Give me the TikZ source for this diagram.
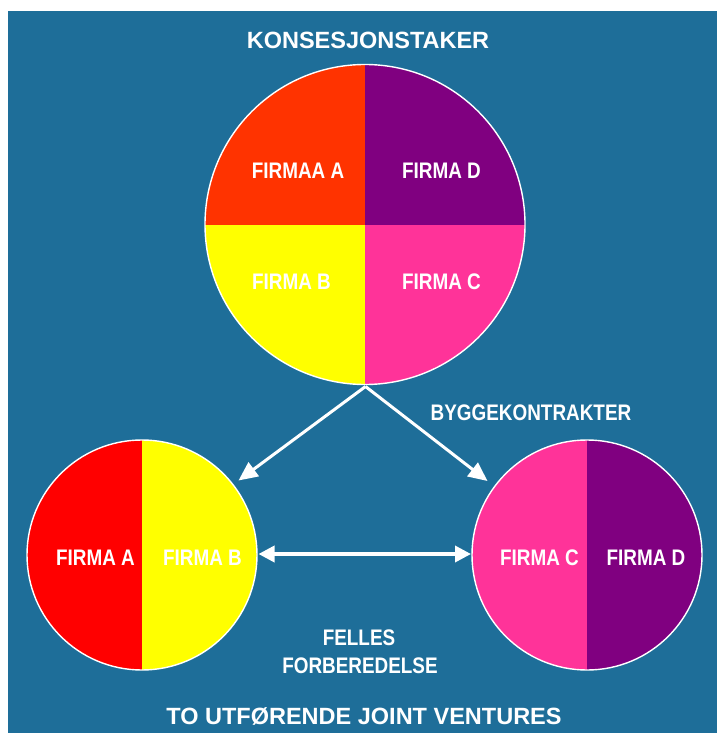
\documentclass[tikz,border=0pt]{standalone}
\usepackage{fontspec}
\setmainfont{Liberation Sans}
\newfontfamily\narrowf[FakeStretch=0.84]{Liberation Sans}
\usetikzlibrary{arrows.meta}
\definecolor{bgblue}{HTML}{1E6E99}
\definecolor{qorange}{HTML}{FF3300}
\definecolor{qpurple}{HTML}{800080}
\definecolor{qyellow}{HTML}{FFFF00}
\definecolor{qpink}{HTML}{FF3399}
\definecolor{qred}{HTML}{FF0000}
\tikzset{
  title/.style={text=white, font=\fontsize{23.5}{26}\selectfont\bfseries, anchor=base, inner sep=0pt},
  lab/.style={text=white, font=\narrowf\fontsize{22.5}{25}\selectfont\bfseries, anchor=base, inner sep=0pt},
  ring/.style={draw=white, line width=1.4pt},
  conn/.style={draw=white, line width=3pt, -{Triangle[length=19pt, width=17pt]}},
  dconn/.style={draw=white, line width=3.5pt, {Triangle[length=16pt, width=16pt]}-{Triangle[length=16pt, width=16pt]}}
}
\begin{document}
\begin{tikzpicture}[x=1pt,y=-1pt]
\useasboundingbox (0,0) rectangle (717,733);
\fill[white] (0,0) rectangle (717,733);
\fill[bgblue] (8,11) rectangle (717,733);

% top circle
\coordinate (tc) at (365,224.5);
\begin{scope}
  \clip (tc) circle[radius=160pt];
  \fill[qorange] (tc) rectangle ++(-170,-170);
  \fill[qpurple] (tc) rectangle ++(170,-170);
  \fill[qyellow] (tc) rectangle ++(-170,170);
  \fill[qpink] (tc) rectangle ++(170,170);
\end{scope}
\node[circle, minimum size=320pt, inner sep=0pt, ring] (top) at (tc) {};

% left circle
\coordinate (lc) at (142,555);
\begin{scope}
  \clip (lc) circle[radius=115pt];
  \fill[qred] (lc) ++(-120,-120) rectangle ++(120,240);
  \fill[qyellow] (lc) ++(0,-120) rectangle ++(120,240);
\end{scope}
\node[circle, minimum size=230pt, inner sep=0pt, ring] (left) at (lc) {};

% right circle
\coordinate (rc) at (587,555);
\begin{scope}
  \clip (rc) circle[radius=115pt];
  \fill[qpink] (rc) ++(-120,-120) rectangle ++(120,240);
  \fill[qpurple] (rc) ++(0,-120) rectangle ++(120,240);
\end{scope}
\node[circle, minimum size=230pt, inner sep=0pt, ring] (right) at (rc) {};

% titles
\node[title] (t1) at (368,49) {KONSESJONSTAKER};
\node[title] (t2) at (364,724.5) {TO UTFØRENDE JOINT VENTURES};

% labels
\node[lab] (fa1) at (298,178) {FIRMAA A};
\node[lab] (fd1) at (441.5,178) {FIRMA D};
\node[lab] (fb1) at (291.5,289) {FIRMA B};
\node[lab] (fc1) at (441.5,289) {FIRMA C};
\node[lab] (fa2) at (95.5,565) {FIRMA A};
\node[lab] (fb2) at (202.5,565) {FIRMA B};
\node[lab] (fc2) at (539.5,565) {FIRMA C};
\node[lab] (fd2) at (646,565) {FIRMA D};
\node[lab] (bk) at (531,420) {BYGGEKONTRAKTER};
\node[lab] (fe) at (359,645) {FELLES};
\node[lab] (fo) at (360,673) {FORBEREDELSE};

% connectors
\coordinate (start) at (365.5,386.5);
\coordinate (lt) at (238.5,480.5);
\coordinate (rt) at (487.5,481);
\coordinate (dl) at (258.5,554);
\coordinate (dr) at (471,554);
\draw[conn] (start) -- (lt);
\draw[conn] (start) -- (rt);
\draw[dconn] (dl) -- (dr);
\end{tikzpicture}
\end{document}
